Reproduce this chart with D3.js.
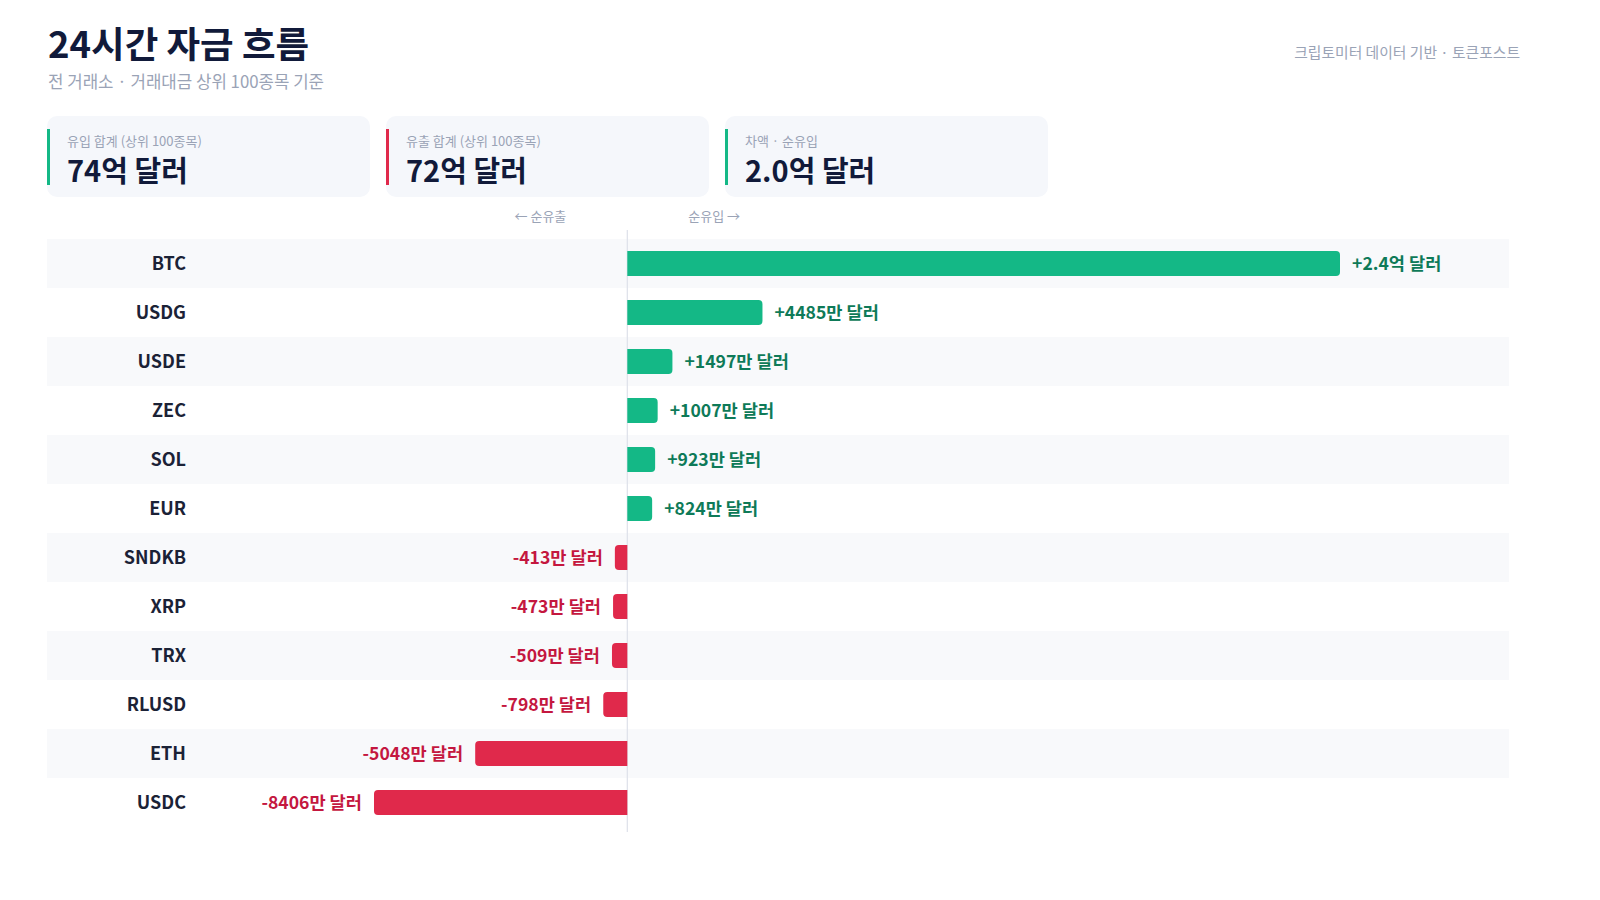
<!DOCTYPE html>
<html>
<head>
<meta charset="utf-8">
<script src="https://cdn.jsdelivr.net/npm/d3@7"></script>
<style>
  body { margin: 0; background: #fff; }
  svg { display: block; font-family: "Noto Sans CJK KR", "Noto Sans", sans-serif; }
</style>
</head>
<body>
<div id="chart"></div>
<script>
const tickers = ["BTC", "USDG", "USDE", "ZEC", "SOL", "EUR", "SNDKB", "XRP", "TRX", "RLUSD", "ETH", "USDC"]
// net flow, in 만 달러
const netFlows = [23650, 4485, 1497, 1007, 923, 824, -413, -473, -509, -798, -5048, -8406]
const cardLabels = ["유입 합계 (상위 100종목)", "유출 합계 (상위 100종목)", "차액 · 순유입"]
const cardValues = ["74억 달러", "72억 달러", "2.0억 달러"]
const cardTypes = ["in", "out", "in"]

const width = 1600
const height = 900
const green = "#14b886"
const red = "#e0294b"
const greenText = "#0e7a58"
const redText = "#c4173f"
const navy = "#111a3a"

const fmt = v => {
  const a = Math.abs(v)
  const s = a >= 10000 ? (a / 10000).toFixed(1) + "억" : a + "만"
  return (v >= 0 ? "+" : "-") + s + " 달러"
}

const svg = d3.select("#chart").append("svg")
  .attr("width", width)
  .attr("height", height)

// header
svg.append("text")
  .attr("x", 48).attr("y", 58)
  .attr("font-size", 36.5).attr("font-weight", 700)
  .attr("fill", navy)
  .text("24시간 자금 흐름")
svg.append("text")
  .attr("x", 48).attr("y", 88)
  .attr("font-size", 16.8)
  .attr("fill", "#9aa3b6")
  .text("전 거래소 · 거래대금 상위 100종목 기준")
svg.append("text")
  .attr("x", 1520).attr("y", 58)
  .attr("text-anchor", "end")
  .attr("font-size", 14.8)
  .attr("fill", "#9aa3b6")
  .text("크립토미터 데이터 기반 · 토큰포스트")

// summary cards
const cardW = 323, cardGap = 16
const card = svg.append("g").selectAll("g")
  .data(cardLabels)
  .join("g")
  .attr("transform", (d, i) => `translate(${47 + i * (cardW + cardGap)},116)`)
card.append("rect")
  .attr("width", cardW).attr("height", 81)
  .attr("rx", 10)
  .attr("fill", "#f5f7fb")
card.append("rect")
  .attr("x", 0).attr("y", 13)
  .attr("width", 3).attr("height", 56)
  .attr("fill", (d, i) => cardTypes[i] === "in" ? green : red)
card.append("text")
  .attr("x", 20).attr("y", 30)
  .attr("font-size", 13)
  .attr("fill", "#9aa3b6")
  .text(d => d)
card.append("text")
  .attr("x", 20).attr("y", 66)
  .attr("font-size", 29).attr("font-weight", 700)
  .attr("fill", navy)
  .text((d, i) => cardValues[i])

// chart
const rowTop = 239, rowH = 49
const x = d3.scaleLinear()
  .domain(d3.extent(netFlows))
  .range([374, 1340])
const y = d3.scaleBand()
  .domain(tickers)
  .range([rowTop, rowTop + rowH * tickers.length])
  .paddingInner(0)

svg.append("text")
  .attr("x", x(0) - 61).attr("y", 221)
  .attr("text-anchor", "end")
  .attr("font-size", 13)
  .attr("fill", "#9aa3b6")
  .text("← 순유출")
svg.append("text")
  .attr("x", x(0) + 61).attr("y", 221)
  .attr("font-size", 13)
  .attr("fill", "#9aa3b6")
  .text("순유입 →")

svg.append("g").selectAll("rect")
  .data(tickers.filter((d, i) => i % 2 === 0))
  .join("rect")
  .attr("x", 47).attr("width", 1509 - 47)
  .attr("y", d => y(d)).attr("height", y.bandwidth())
  .attr("fill", "#f8f9fb")

svg.append("line")
  .attr("x1", x(0)).attr("x2", x(0))
  .attr("y1", 230).attr("y2", 832)
  .attr("stroke", "#dde1ea").attr("stroke-width", 1.2)

const barH = 25, r = 4
const barPath = (v, t) => {
  const x0 = x(0), x1 = x(v)
  const top = y(t) + (y.bandwidth() - barH) / 2, bot = top + barH
  const w = Math.abs(x1 - x0)
  const rr = Math.min(r, w / 2)
  if (v >= 0) {
    return `M${x0},${top}H${x1 - rr}Q${x1},${top} ${x1},${top + rr}V${bot - rr}Q${x1},${bot} ${x1 - rr},${bot}H${x0}Z`
  }
  return `M${x0},${top}H${x1 + rr}Q${x1},${top} ${x1},${top + rr}V${bot - rr}Q${x1},${bot} ${x1 + rr},${bot}H${x0}Z`
}

svg.append("g").selectAll("path")
  .data(tickers)
  .join("path")
  .attr("d", (t, i) => barPath(netFlows[i], t))
  .attr("fill", (t, i) => netFlows[i] >= 0 ? green : red)

svg.append("g").selectAll("text")
  .data(tickers)
  .join("text")
  .attr("x", 186)
  .attr("y", d => y(d) + y.bandwidth() / 2)
  .attr("dy", "0.35em")
  .attr("text-anchor", "end")
  .attr("font-size", 18).attr("font-weight", 700)
  .attr("fill", "#1b2236")
  .text(d => d)

svg.append("g").selectAll("text")
  .data(tickers)
  .join("text")
  .attr("x", (t, i) => x(netFlows[i]) + (netFlows[i] >= 0 ? 12 : -12))
  .attr("y", d => y(d) + y.bandwidth() / 2)
  .attr("dy", "0.35em")
  .attr("text-anchor", (t, i) => netFlows[i] >= 0 ? "start" : "end")
  .attr("font-size", 17.6).attr("font-weight", 700)
  .attr("fill", (t, i) => netFlows[i] >= 0 ? greenText : redText)
  .text((t, i) => fmt(netFlows[i]))
</script>
</body>
</html>
